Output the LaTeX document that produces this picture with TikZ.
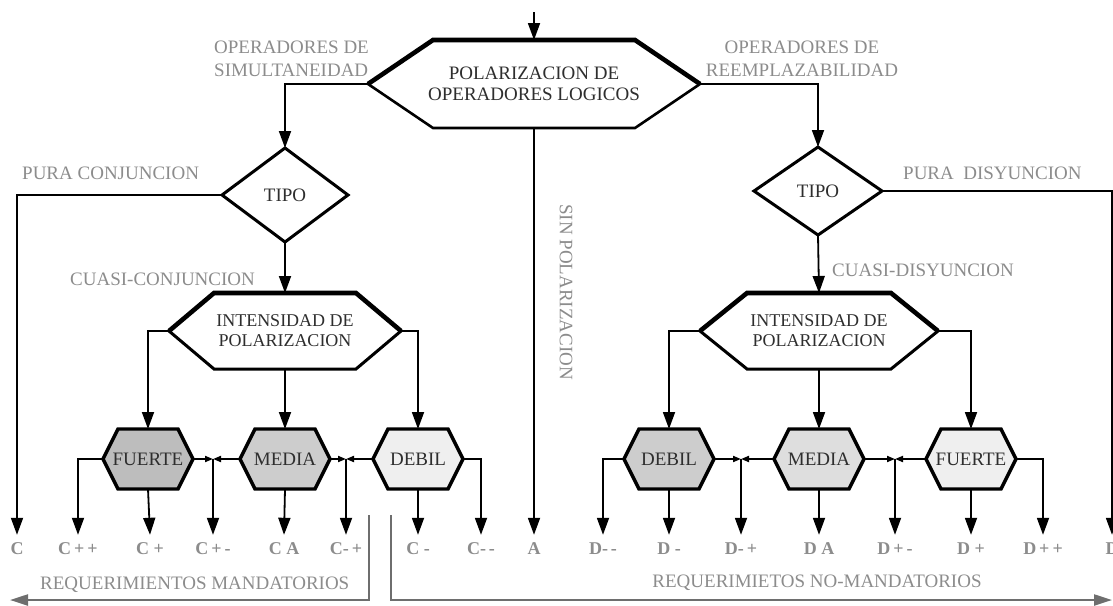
\documentclass[tikz,border=0pt]{standalone}
\usepackage{fontspec}
\setmainfont{Liberation Serif}
\usetikzlibrary{arrows.meta,backgrounds}

\definecolor{ink}{HTML}{2E2E2E}
\definecolor{lbl}{HTML}{8C8C8C}
\definecolor{guide}{HTML}{6E6E6E}
\definecolor{fillA}{HTML}{BDBDBD}
\definecolor{fillB}{HTML}{CDCDCD}
\definecolor{fillC}{HTML}{DEDEDE}
\definecolor{fillD}{HTML}{EFEFEF}

% hexagon outline around a rectangular node: #1 node, #2 half width of the flat top, #3 style
\newcommand\hexpath[3]{\path[line join=miter,#3] (#1.west) -- ([xshift=-#2]#1.north) -- ([xshift=#2]#1.north) -- (#1.east) -- ([xshift=#2]#1.south) -- ([xshift=-#2]#1.south) -- cycle;}
% heavier upper edges of a hexagon
\newcommand\hextop[3]{\draw[line join=miter,#3] (#1.west) -- ([xshift=-#2]#1.north) -- ([xshift=#2]#1.north) -- (#1.east);}
% diamond outline around a rectangular node
\newcommand\diapath[2]{\path[line join=miter,#2] (#1.west) -- (#1.north) -- (#1.east) -- (#1.south) -- cycle;}

\begin{document}
\begin{tikzpicture}[x=1pt,y=-1pt,
  box/.style={rectangle,inner sep=0pt,outer sep=0pt,text=ink,align=center,
    font=\fontsize{19}{21}\selectfont},
  levelbox/.style={box,minimum width=90pt,minimum height=60pt},
  tag/.style={text=lbl,inner sep=0pt,font=\fontsize{19}{23}\selectfont},
  codelbl/.style={text=lbl,font=\bfseries\fontsize{18}{20}\selectfont,
    text height=12pt,text depth=0pt,inner ysep=7pt,inner xsep=1pt},
  link/.style={line width=1.8pt,-{Triangle[length=17pt,width=12pt]}},
  tick/.style={line width=1.8pt,-{Triangle[length=8pt,width=6pt]}},
  guideline/.style={draw=guide,line width=2.2pt,-{Triangle[length=18pt,width=11pt]}},
]
\useasboundingbox (0,0) rectangle (1113,605);

% ---- decision nodes ----
\node[box,minimum width=332pt,minimum height=88pt] (M) at (534,84) {POLARIZACION DE\\OPERADORES LOGICOS};
\node[box,minimum width=126pt,minimum height=94pt] (TL) at (285,195) {TIPO};
\node[box,minimum width=128pt,minimum height=88pt] (TR) at (818,191) {TIPO};
\node[box,minimum width=232pt,minimum height=76pt,font=\fontsize{18}{20}\selectfont] (IL) at (285,331) {INTENSIDAD DE\\POLARIZACION};
\node[box,minimum width=238pt,minimum height=76pt,font=\fontsize{18}{20}\selectfont] (IR) at (819,331) {INTENSIDAD DE\\POLARIZACION};

% ---- intensity levels ----
\node[levelbox] (FL) at (148,459) {FUERTE};
\node[levelbox] (ML) at (285,459) {MEDIA};
\node[levelbox] (DL) at (418,459) {DEBIL};
\node[levelbox] (DR) at (669,459) {DEBIL};
\node[levelbox] (MR) at (819,459) {MEDIA};
\node[levelbox] (FR) at (971,459) {FUERTE};

\begin{scope}[on background layer]
  \hexpath{M}{101pt}{fill=white,draw=black,line width=2.6pt}
  \hextop{M}{101pt}{line width=4.6pt}
  \diapath{TL}{fill=white,draw=black,line width=3pt}
  \diapath{TR}{fill=white,draw=black,line width=3pt}
  \hexpath{IL}{71pt}{fill=white,draw=black,line width=3pt}
  \hextop{IL}{71pt}{line width=4.6pt}
  \hexpath{IR}{72pt}{fill=white,draw=black,line width=3pt}
  \hextop{IR}{72pt}{line width=4.6pt}
  \hexpath{FL}{30pt}{fill=fillA,draw=black,line width=3.4pt}
  \hexpath{ML}{30pt}{fill=fillB,draw=black,line width=3.4pt}
  \hexpath{DL}{30pt}{fill=fillD,draw=black,line width=3.4pt}
  \hexpath{DR}{30pt}{fill=fillB,draw=black,line width=3.4pt}
  \hexpath{MR}{30pt}{fill=fillC,draw=black,line width=3.4pt}
  \hexpath{FR}{30pt}{fill=fillD,draw=black,line width=3.4pt}
\end{scope}

% ---- result codes ----
\node[codelbl] (C)   at (17,548)   {C};
\node[codelbl] (Cpp) at (78,548)   {C\,+\,+};
\node[codelbl] (Cp)  at (150,548)  {C +};
\node[codelbl] (Cpm) at (213,548)  {C\,+\,-};
\node[codelbl] (CA)  at (284,548)  {C A};
\node[codelbl] (Cmp) at (346,548)  {C-\,+};
\node[codelbl] (Cm)  at (418,548)  {C -};
\node[codelbl] (Cmm) at (481,548)  {C-\,-};
\node[codelbl] (A)   at (534,548)  {A};
\node[codelbl] (Dmm) at (603,548)  {D-\,-};
\node[codelbl] (Dm)  at (669,548)  {D -};
\node[codelbl] (Dmp) at (741,548)  {D-\,+};
\node[codelbl] (DA)  at (819,548)  {D A};
\node[codelbl] (Dpm) at (895,548)  {D\,+\,-};
\node[codelbl] (Dp)  at (971,548)  {D +};
\node[codelbl] (Dpp) at (1043,548) {D\,+\,+};
\node[codelbl] (D)   at (1112,548) {D};

% ---- branch labels ----
\node[tag,anchor=west,align=left] (sim) at (214,59) {OPERADORES DE\\SIMULTANEIDAD};
\node[tag,align=center] (ree) at (802,59) {OPERADORES DE\\REEMPLAZABILIDAD};
\node[tag,anchor=west] (pc) at (22,173) {PURA CONJUNCION};
\node[tag,anchor=west] (pd) at (903,173) {PURA\ \ DISYUNCION};
\node[tag,anchor=west] (cc) at (70,279) {CUASI-CONJUNCION};
\node[tag,anchor=west] (cd) at (832,270) {CUASI-DISYUNCION};
\node[tag,rotate=-90] (sp) at (566,292) {SIN POLARIZACION};
\node[tag,anchor=west] (rm) at (40,585) {REQUERIMIENTOS MANDATORIOS};
\node[tag] (rn) at (817,583) {REQUERIMIETOS NO-MANDATORIOS};

% ---- junction points and free ends ----
\coordinate (in) at (534,12);
\coordinate (J1) at (213,459);
\coordinate (J2) at (346,459);
\coordinate (J3) at (741,459);
\coordinate (J4) at (895,459);
\coordinate (gl) at (369,515);
\coordinate (gle) at (10,600);
\coordinate (gr) at (391,515);
\coordinate (gre) at (1112,600);

% ---- connectors ----
\draw[link] (in) -- (M.north);
\draw[link] (M.west) -| (TL.north);
\draw[link] (M.east) -| (TR.north);
\draw[link] (M.south) -- (A.north);
\draw[link] (TL.west) -| (C.north);
\draw[link] (TR.east) -| (D.north);
\draw[link] (TL.south) -- (IL.north);
\draw[link] (TR.south) -- (IR.north);

\draw[link] (IL.west) -| (FL.north);
\draw[link] (IL.south) -- (ML.north);
\draw[link] (IL.east) -| (DL.north);
\draw[link] (IR.west) -| (DR.north);
\draw[link] (IR.south) -- (MR.north);
\draw[link] (IR.east) -| (FR.north);

\draw[link] (FL.west) -| (Cpp.north);
\draw[link] (FL.south) -- (Cp.north);
\draw[tick] (FL.east) -- (J1);
\draw[tick] (ML.west) -- (J1);
\draw[link] (J1) -- (Cpm.north);
\draw[link] (ML.south) -- (CA.north);
\draw[tick] (ML.east) -- (J2);
\draw[tick] (DL.west) -- (J2);
\draw[link] (J2) -- (Cmp.north);
\draw[link] (DL.south) -- (Cm.north);
\draw[link] (DL.east) -| (Cmm.north);

\draw[link] (DR.west) -| (Dmm.north);
\draw[link] (DR.south) -- (Dm.north);
\draw[tick] (DR.east) -- (J3);
\draw[tick] (MR.west) -- (J3);
\draw[link] (J3) -- (Dmp.north);
\draw[link] (MR.south) -- (DA.north);
\draw[tick] (MR.east) -- (J4);
\draw[tick] (FR.west) -- (J4);
\draw[link] (J4) -- (Dpm.north);
\draw[link] (FR.south) -- (Dp.north);
\draw[link] (FR.east) -| (Dpp.north);

% ---- requirement ranges ----
\draw[guideline] (gl) |- (gle);
\draw[guideline] (gr) |- (gre);
\end{tikzpicture}
\end{document}
